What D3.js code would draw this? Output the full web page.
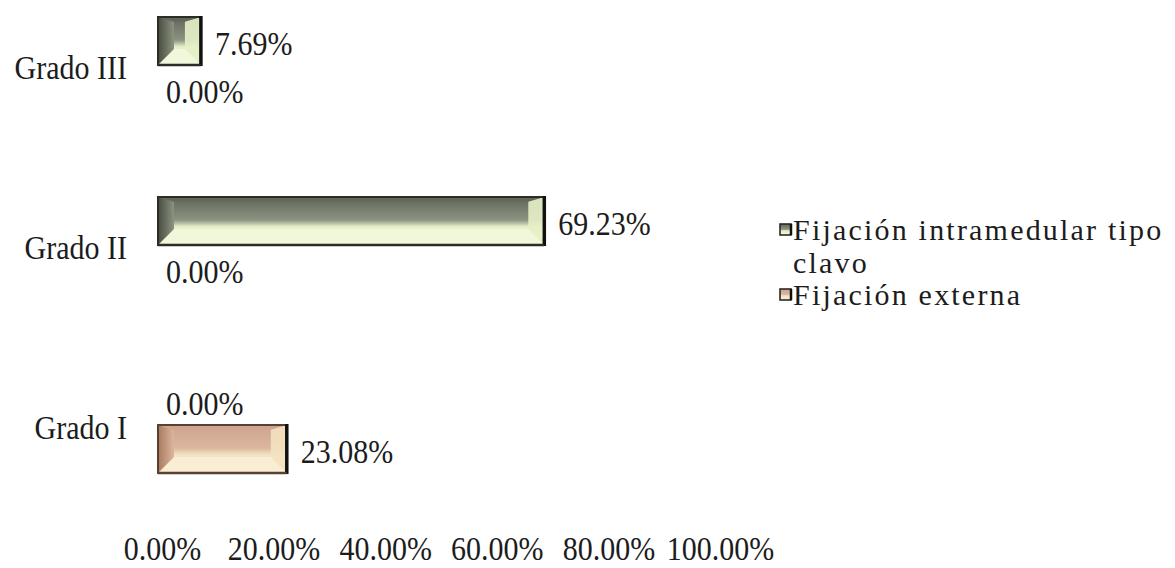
<!DOCTYPE html>
<html>
<head>
<meta charset="utf-8">
<script src="https://cdn.jsdelivr.net/npm/d3@7"></script>
<style>
  html, body { margin: 0; padding: 0; background: #ffffff; }
  svg { display: block; }
  text { font-family: "Liberation Serif", "Times New Roman", serif; fill: #1c1c1c; }
</style>
</head>
<body>
<svg id="chart" width="1175" height="568"></svg>
<script>
// Categories (top to bottom) and the two series, in percent
const categories = ["Grado III", "Grado II", "Grado I"];
const seriesNames = ["Fijación intramedular tipo clavo", "Fijación externa"];
const intramedular = [7.69, 69.23, 0.00];
const externa = [0.00, 0.00, 23.08];
const xTicks = [0, 20, 40, 60, 80, 100];

const seriesValues = [intramedular, externa];

// Bevel palettes for each series
const palettes = [
  { dark: "#62675a", mid: "#8c9380", light: "#e6efc8", pale: "#f1f7da", left: "#474c40", edge: "#2b2d26" },
  { dark: "#cfa48d", mid: "#dbb69e", light: "#f3e2c0", pale: "#f9eed4", left: "#a87a5e", edge: "#5a4030" }
];

const TEXT_STRETCH = 1.12;   // slightly tall lettering

const svg = d3.select("#chart");
const defs = svg.append("defs");

palettes.forEach((p, i) => {
  const g = defs.append("linearGradient")
    .attr("id", "face" + i).attr("x1", 0).attr("y1", 0).attr("x2", 0).attr("y2", 1);
  g.append("stop").attr("offset", "0%").attr("stop-color", p.dark);
  g.append("stop").attr("offset", "48%").attr("stop-color", p.mid);
  g.append("stop").attr("offset", "62%").attr("stop-color", p.light);
  g.append("stop").attr("offset", "100%").attr("stop-color", p.pale);
  const l = defs.append("linearGradient")
    .attr("id", "left" + i).attr("x1", 0).attr("y1", 0).attr("x2", 1).attr("y2", 0);
  l.append("stop").attr("offset", "0%").attr("stop-color", p.left);
  l.append("stop").attr("offset", "100%").attr("stop-color", p.mid);
});

const x = d3.scaleLinear().domain([0, 100]).range([158, 716]);
const y = d3.scaleBand().domain(categories).range([-25, 515]);
const yInner = d3.scaleBand().domain(seriesNames).range([42, 138]);

// Flatten into one record per bar
const bars = [];
categories.forEach((c, ci) => {
  seriesNames.forEach((s, si) => {
    bars.push({ category: c, series: s, si: si, value: seriesValues[si][ci] });
  });
});

const fmt = v => v.toFixed(2) + "%";

// Draw one bevelled bar
function drawBar(g, d) {
  const p = palettes[d.si];
  const x0 = x(0);
  const w = x(d.value) - x0;
  const y0 = y(d.category) + yInner(d.series);
  const h = yInner.bandwidth();
  if (w <= 0) return;
  const b = Math.min(16, w * 0.38, h * 0.34);
  const bt = b * 0.3;

  g.append("rect").attr("x", x0).attr("y", y0).attr("width", w).attr("height", h)
    .attr("fill", "url(#face" + d.si + ")");
  // bottom facet
  g.append("path")
    .attr("d", `M${x0},${y0 + h} L${x0 + b},${y0 + h - b} L${x0 + w - b},${y0 + h - b} L${x0 + w},${y0 + h} Z`)
    .attr("fill", p.pale);
  // left facet
  g.append("path")
    .attr("d", `M${x0},${y0} L${x0 + b},${y0 + bt} L${x0 + b},${y0 + h - b} L${x0},${y0 + h} Z`)
    .attr("fill", "url(#left" + d.si + ")");
  // top facet
  g.append("path")
    .attr("d", `M${x0},${y0} L${x0 + w},${y0} L${x0 + w - b},${y0 + bt} L${x0 + b},${y0 + bt} Z`)
    .attr("fill", p.dark).attr("opacity", 0.8);
  // right facet
  g.append("path")
    .attr("d", `M${x0 + w},${y0} L${x0 + w},${y0 + h} L${x0 + w - b},${y0 + h - b} L${x0 + w - b},${y0 + bt} Z`)
    .attr("fill", p.light).attr("opacity", 0.9);
  // outline
  g.append("rect").attr("x", x0).attr("y", y0).attr("width", w).attr("height", h)
    .attr("fill", "none").attr("stroke", p.edge).attr("stroke-width", 2);
  g.append("line").attr("x1", x0 + w).attr("x2", x0 + w).attr("y1", y0 - 1).attr("y2", y0 + h + 1)
    .attr("stroke", "#111").attr("stroke-width", 3.5);
  g.append("line").attr("x1", x0).attr("x2", x0 + w).attr("y1", y0 + h).attr("y2", y0 + h)
    .attr("stroke", p.edge).attr("stroke-width", 2.5);
}

const barLayer = svg.append("g");
bars.forEach(d => drawBar(barLayer.append("g"), d));

// Value labels
svg.append("g").selectAll("text").data(bars).join("text")
  .attr("transform", d => `translate(${x(d.value) + (d.value > 0 ? 14 : 8)},${y(d.category) + yInner(d.series) + yInner.bandwidth() / 2 + 2}) scale(1,${TEXT_STRETCH})`)
  .attr("dy", "0.35em")
  .attr("font-size", 30)
  .text(d => fmt(d.value));

// Category labels
svg.append("g").selectAll("text").data(categories).join("text")
  .attr("transform", c => `translate(127,${y(c) + y.bandwidth() / 2 + 2}) scale(1,${TEXT_STRETCH})`)
  .attr("dy", "0.35em")
  .attr("text-anchor", "end")
  .attr("font-size", 30)
  .text(c => c);

// Bottom value axis (labels only)
const axis = svg.append("g").attr("transform", "translate(4,536)")
  .call(d3.axisBottom(x).tickValues(xTicks).tickFormat(fmt).tickSize(0).tickPadding(0));
axis.select(".domain").remove();
axis.selectAll("text")
  .attr("font-family", "'Liberation Serif', 'Times New Roman', serif")
  .attr("font-size", 30)
  .attr("fill", "#1c1c1c")
  .attr("transform", `scale(1,${TEXT_STRETCH})`);

// Legend
const legend = svg.append("g").attr("transform", "translate(780,0)");
const legendTop = [240, 305];
seriesNames.forEach((name, i) => {
  const g = legend.append("g");
  const my = legendTop[i] - 16;
  g.append("rect").attr("x", 0).attr("y", my).attr("width", 11).attr("height", 11)
    .attr("fill", "url(#face" + i + ")").attr("stroke", "#2a2a2a").attr("stroke-width", 1.6);
  g.append("line").attr("x1", 11).attr("x2", 11).attr("y1", my).attr("y2", my + 11)
    .attr("stroke", "#111").attr("stroke-width", 2.5);
  const t = g.append("text")
    .attr("x", 13).attr("y", legendTop[i])
    .attr("font-size", 30)
    .attr("letter-spacing", 2.2);
  // wrap long names
  const words = name.split(" ");
  let line = [];
  let tspan = t.append("tspan").attr("x", 13);
  words.forEach(wd => {
    line.push(wd);
    tspan.text(line.join(" "));
    if (tspan.node().getComputedTextLength() > 385 && line.length > 1) {
      line.pop();
      tspan.text(line.join(" "));
      line = [wd];
      tspan = t.append("tspan").attr("x", 13).attr("dy", 33).text(wd);
    }
  });
});
</script>
</body>
</html>
